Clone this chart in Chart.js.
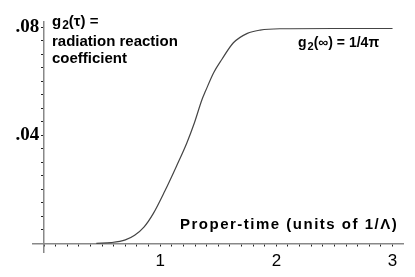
<!DOCTYPE html>
<html>
<head>
<meta charset="utf-8">
<script src="https://cdn.jsdelivr.net/npm/chart.js@4/dist/chart.umd.min.js"></script>
<style>
  html, body { margin: 0; padding: 0; background: #fff; }
  #plot { display: block; }
</style>
</head>
<body>
<canvas id="plot" width="415" height="277"></canvas>
<script>
var properTime = [0.45, 0.58, 0.70, 0.78, 0.86, 0.94, 1.04, 1.14, 1.23, 1.29, 1.36, 1.39, 1.46, 1.53, 1.63, 1.75, 1.86, 2.03, 2.5, 3.0];
var g2 = [0, 0.0003, 0.0013, 0.0030, 0.0060, 0.0110, 0.0194, 0.0286, 0.0373, 0.0441, 0.0533, 0.0564, 0.0632, 0.0681, 0.0743, 0.0778, 0.0790, 0.0795, 0.0796, 0.0796];
var xLabels = {1: '1', 2: '2', 3: '3'};
var yLabels = {4: '.04', 8: '.08'};

var points = properTime.map(function (t, i) { return {x: t, y: g2[i]}; });

var FONT = '"Liberation Sans", Arial, sans-serif';

// tekst met een "2" als subscript
function drawG2(ctx, x, y, rest, size) {
    ctx.font = 'bold ' + size + 'px ' + FONT;
    ctx.fillText('g', x, y);
    x += ctx.measureText('g').width + 1;
    ctx.font = 'bold ' + Math.round(size * 0.8) + 'px ' + FONT;
    ctx.fillText('2', x, y + 3);
    x += ctx.measureText('2').width;
    ctx.font = 'bold ' + size + 'px ' + FONT;
    ctx.fillText(rest, x, y);
}

// teksten in de grafiek
var labelsPlugin = {
    id: 'labels',
    afterDraw: function (chart) {
        var ctx = chart.ctx;
        ctx.save();
        ctx.fillStyle = '#000';
        ctx.textBaseline = 'alphabetic';
        drawG2(ctx, 52, 26, '(\u03c4) =', 15);
        ctx.font = 'bold 15px ' + FONT;
        ctx.fillText('radiation reaction', 52, 46);
        ctx.fillText('coefficient', 52, 63);
        drawG2(ctx, 298, 47, '(\u221e) = 1/4\u03c0', 14);
        ctx.font = 'bold 15px ' + FONT;
        ctx.letterSpacing = '1.5px';
        ctx.fillText('Proper-time (units of 1/\u039b)', 180, 229);
        ctx.restore();
    }
};

var myChart = new Chart(document.getElementById('plot'), {
    type: 'scatter',
    data: {
        datasets: [{
            data: points,
            showLine: true,
            borderColor: '#444',
            borderWidth: 1.2,
            pointRadius: 0,
            cubicInterpolationMode: 'monotone'
        }]
    },
    options: {
        responsive: false,
        animation: false,
        layout: { padding: { left: 33, right: 12, top: 22, bottom: 25 } },
        plugins: { legend: { display: false }, tooltip: { enabled: false } },
        scales: {
            x: {
                type: 'linear',
                position: { y: 0 },
                min: -0.095,
                max: 3.09,
                border: { color: '#888', width: 1.5 },
                grid: { drawOnChartArea: false, tickLength: 2, color: '#222' },
                ticks: {
                    stepSize: 0.1,
                    includeBounds: false,
                    autoSkip: false,
                    maxRotation: 0,
                    padding: 6,
                    color: '#000',
                    font: { family: FONT, size: 17 },
                    callback: function (v) {
                        var k = Math.round(v * 10);
                        return (k % 10 === 0 && xLabels[k / 10]) ? xLabels[k / 10] : '';
                    }
                }
            },
            y: {
                type: 'linear',
                position: { x: 0 },
                min: -0.0032,
                max: 0.082,
                border: { color: '#888', width: 1.5 },
                grid: { drawOnChartArea: false, tickLength: 2, color: '#222' },
                ticks: {
                    stepSize: 0.005,
                    includeBounds: false,
                    autoSkip: false,
                    color: '#000',
                    font: { family: '"Liberation Serif", "Times New Roman", serif', size: 19, weight: 'bold' },
                    // spatie erachter zodat het label los van de as staat
                    callback: function (v) {
                        var k = Math.round(v * 100);
                        return (Math.abs(v * 100 - k) < 1e-6 && yLabels[k]) ? yLabels[k] + ' ' : '';
                    }
                }
            }
        }
    },
    plugins: [labelsPlugin]
});
</script>
</body>
</html>
